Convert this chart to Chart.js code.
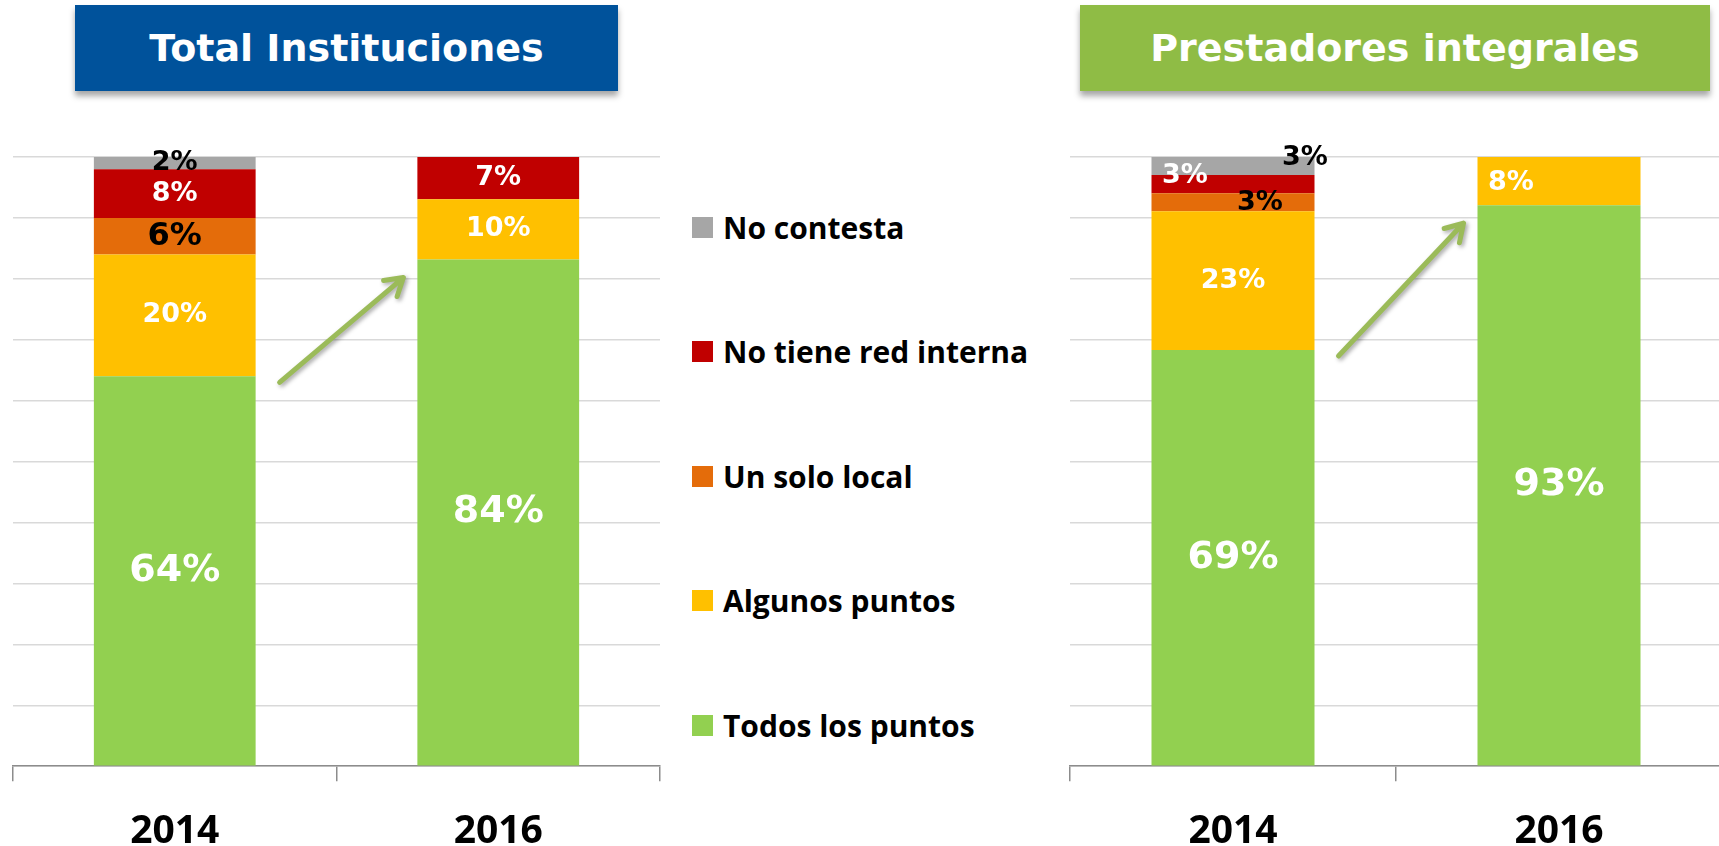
<!DOCTYPE html>
<html>
<head>
<meta charset="utf-8">
<script src="https://cdn.jsdelivr.net/npm/chart.js@4.4.0/dist/chart.umd.min.js"></script>
<style>
  html, body { margin: 0; padding: 0; width: 1719px; height: 846px; overflow: hidden; background: #fff; }
  .title { position: absolute; top: 5px; height: 86px; color: #fff; font: bold 38px "DejaVu Sans", sans-serif;
           display: flex; align-items: center; justify-content: center; box-shadow: 0 5px 6px rgba(0,0,0,0.35); }
  .box { position: absolute; top: 0; height: 882px; }
  .leg { position: absolute; left: 692px; height: 30px; display: flex; align-items: center;
         font: bold 30px "Open Sans", sans-serif; color: #000; white-space: nowrap; }
  .leg span.sw { width: 21px; height: 21px; margin-right: 10px; display: inline-block; }
</style>
</head>
<body>
<div class="title" style="left:75px;width:543px;background:#00529B;">Total Instituciones</div>
<div class="title" style="left:1080px;width:630px;background:#8FBC45;">Prestadores integrales</div>
<div class="box" style="left:0;width:680px;"><canvas id="chartTotal"></canvas></div>
<div class="box" style="left:1057px;width:680px;"><canvas id="chartPrest"></canvas></div>
<div id="legend"></div>
<script>
// data
const years = ['2014', '2016'];
const seriesNames = ['Todos los puntos', 'Algunos puntos', 'Un solo local', 'No tiene red interna', 'No contesta'];
const seriesColors = ['#92D050', '#FFC000', '#E46C0A', '#C00000', '#A6A6A6'];

const totalTodos = [64, 84];
const totalAlgunos = [20, 10];
const totalUnSolo = [6, 0];
const totalNoRed = [8, 7];
const totalNoContesta = [2, 0];

const prestTodos = [69, 93];
const prestAlgunos = [23, 8];
const prestUnSolo = [3, 0];
const prestNoRed = [3, 0];
const prestNoContesta = [3, 0];

// label look per series (bottom to top)
const totalLabelStyle = [
  {size: 38, color: '#fff'}, {size: 27, color: '#fff'}, {size: 32, color: '#000'},
  {size: 27, color: '#fff'}, {size: 27, color: '#000'}
];
const prestLabelStyle = [
  {size: 38, color: '#fff'}, {size: 27, color: '#fff'}, {size: 27, color: '#000'},
  {size: 27, color: '#fff'}, {size: 27, color: '#000'}
];
// hand-moved labels in the original: [series][year] -> [dx, dy]
const prestLabelShift = {1: {1: [-48, 2]}, 2: {0: [27, 1]}, 3: {0: [-48, -8]}, 4: {0: [72, -8]}};

// 100% stacked: every column is scaled to its own total
function buildDatasets(series) {
  const totals = years.map((_, i) => series.reduce((s, arr) => s + arr[i], 0));
  return series.map((arr, k) => ({
    label: seriesNames[k],
    raw: arr,
    data: arr.map((v, i) => v / totals[i] * 100),
    backgroundColor: seriesColors[k],
    borderWidth: 0,
    barPercentage: 0.5,
    categoryPercentage: 1
  }));
}

const segLabels = {
  id: 'segLabels',
  afterDatasetsDraw(chart, args, opts) {
    const ctx = chart.ctx;
    chart.data.datasets.forEach((ds, di) => {
      chart.getDatasetMeta(di).data.forEach((bar, i) => {
        const v = ds.raw[i];
        if (!v) return;
        const st = opts.styles[di];
        const sh = (opts.shift[di] && opts.shift[di][i]) || [0, 0];
        ctx.save();
        ctx.font = 'bold ' + st.size + 'px "DejaVu Sans"';
        ctx.fillStyle = st.color;
        ctx.textAlign = 'center';
        ctx.textBaseline = 'middle';
        ctx.fillText(v + '%', bar.x + sh[0], (bar.y + bar.base) / 2 + sh[1]);
        ctx.restore();
      });
    });
  }
};

// green arrow from the 2014 column to the 2016 column
const arrow = {
  id: 'arrow',
  afterDatasetsDraw(chart) {
    const bars = chart.getDatasetMeta(0).data;
    const a = bars[0], b = bars[1];
    const x1 = a.x + a.width / 2 + 24, y1 = a.y + 6;
    const x2 = b.x - b.width / 2 - 14, y2 = b.y + 18;
    const ang = Math.atan2(y2 - y1, x2 - x1);
    const ctx = chart.ctx;
    ctx.save();
    ctx.strokeStyle = '#9BBB59';
    ctx.lineWidth = 5;
    ctx.lineCap = 'round';
    ctx.lineJoin = 'round';
    ctx.shadowColor = 'rgba(0,0,0,0.35)';
    ctx.shadowBlur = 4;
    ctx.shadowOffsetX = 2;
    ctx.shadowOffsetY = 2;
    ctx.beginPath();
    ctx.moveTo(x1, y1);
    ctx.lineTo(x2, y2);
    ctx.moveTo(x2 - 20 * Math.cos(ang - 0.55), y2 - 20 * Math.sin(ang - 0.55));
    ctx.lineTo(x2, y2);
    ctx.lineTo(x2 - 20 * Math.cos(ang + 0.55), y2 - 20 * Math.sin(ang + 0.55));
    ctx.stroke();
    ctx.restore();
  }
};

function makeChart(id, series, styles, shift, padRight) {
  return new Chart(document.getElementById(id), {
    type: 'bar',
    data: { labels: years, datasets: buildDatasets(series) },
    plugins: [segLabels, arrow],
    options: {
      responsive: true,
      maintainAspectRatio: false,
      animation: false,
      layout: { padding: { left: 13, right: padRight, top: 157, bottom: 0 } },
      plugins: {
        legend: { display: false },
        tooltip: { enabled: false },
        segLabels: { styles: styles, shift: shift }
      },
      scales: {
        x: {
          stacked: true,
          grid: { drawOnChartArea: false, color: '#8C8C8C', lineWidth: 1.5, tickLength: 15 },
          border: { color: '#8C8C8C', width: 1.5 },
          ticks: { color: '#000', padding: 27, font: { family: 'Open Sans', weight: 'bold', size: 39 } }
        },
        y: {
          stacked: true,
          min: 0,
          max: 100,
          ticks: { display: false, stepSize: 10 },
          border: { display: false },
          grid: { color: '#D9D9D9', lineWidth: 1.5, drawTicks: false }
        }
      }
    }
  });
}

makeChart('chartTotal', [totalTodos, totalAlgunos, totalUnSolo, totalNoRed, totalNoContesta],
  totalLabelStyle, {}, 20);
makeChart('chartPrest', [prestTodos, prestAlgunos, prestUnSolo, prestNoRed, prestNoContesta],
  prestLabelStyle, prestLabelShift, 15);

// legend, top item first
const legend = document.getElementById('legend');
seriesNames.slice().reverse().forEach((name, i) => {
  const k = seriesNames.length - 1 - i;
  const row = document.createElement('div');
  row.className = 'leg';
  row.style.top = (212 + i * 124.5) + 'px';
  row.innerHTML = '<span class="sw" style="background:' + seriesColors[k] + '"></span>' + name;
  legend.appendChild(row);
});
</script>
</body>
</html>
